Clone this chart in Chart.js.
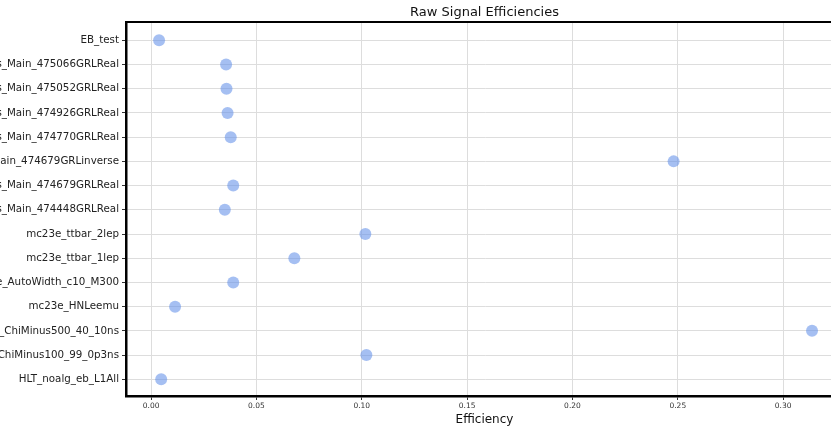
<!DOCTYPE html>
<html>
<head>
<meta charset="utf-8">
<script src="https://cdn.jsdelivr.net/npm/chart.js@4"></script>
<style>
    html, body { margin: 0; padding: 0; overflow: hidden; background: #fff; }
    canvas { display: block; }
</style>
</head>
<body>
<!-- wider than the window: the plot runs off the right edge like the reference;
     7px extra is eaten by Chart.js point overflow padding -->
<canvas id="myChart" width="849" height="427"></canvas>
<script>
// categories, top to bottom
const categories = [
    'EB_test',
    'physics_Main_475066GRLReal',
    'physics_Main_475052GRLReal',
    'physics_Main_474926GRLReal',
    'physics_Main_474770GRLReal',
    'physics_Main_474679GRLinverse',
    'physics_Main_474679GRLReal',
    'physics_Main_474448GRLReal',
    'mc23e_ttbar_2lep',
    'mc23e_ttbar_1lep',
    'mc23e_AutoWidth_c10_M300',
    'mc23e_HNLeemu',
    'mc23e_ChiMinus500_40_10ns',
    'mc23e_ChiMinus100_99_0p3ns',
    'HLT_noalg_eb_L1All'
];
const efficiencies = [
    0.0038, 0.0356, 0.0358, 0.0363, 0.0378, 0.2480, 0.0390, 0.0350,
    0.1017, 0.0680, 0.0390, 0.0114, 0.3137, 0.1022, 0.0048
];
const xTickValues = [0, 0.05, 0.10, 0.15, 0.20, 0.25, 0.30];

const font = "'DejaVu Sans', sans-serif";

// top frame line (matplotlib-like spines)
const framePlugin = {
    id: 'frame',
    afterDraw(chart) {
        const { ctx, chartArea } = chart;
        ctx.save();
        ctx.strokeStyle = '#000';
        ctx.lineWidth = 2;
        ctx.beginPath();
        ctx.moveTo(chartArea.left - 1, chartArea.top);
        ctx.lineTo(chartArea.right, chartArea.top);
        ctx.stroke();
        ctx.restore();
    }
};

document.addEventListener('DOMContentLoaded', () => {
    const points = efficiencies.map((v, i) => ({ x: v, y: i }));
    const ctx = document.getElementById('myChart').getContext('2d');
    new Chart(ctx, {
        type: 'scatter',
        data: {
            datasets: [{
                label: 'Efficiency',
                data: points,
                backgroundColor: 'rgba(100, 145, 232, 0.58)',
                borderWidth: 0,
                pointRadius: 6,
                pointHoverRadius: 6
            }]
        },
        options: {
            responsive: false,
            animation: false,
            layout: { padding: 0 },
            plugins: {
                legend: { display: false },
                tooltip: { enabled: false },
                title: {
                    display: true,
                    fullSize: false,
                    text: 'Raw Signal Efficiencies',
                    color: '#111',
                    font: { family: font, size: 13, weight: 'normal' },
                    padding: { top: 5, bottom: 1.4 }
                }
            },
            scales: {
                x: {
                    type: 'linear',
                    min: -0.0119,
                    max: 0.3284,
                    afterBuildTicks: scale => {
                        scale.ticks = xTickValues.map(v => ({ value: v }));
                    },
                    afterFit: scale => { scale.height = 31; },
                    ticks: {
                        color: '#333',
                        font: { family: font, size: 7.5 },
                        padding: 2,
                        maxRotation: 0,
                        callback: v => v.toFixed(2)
                    },
                    grid: {
                        color: '#dddddd',
                        tickColor: '#333',
                        tickLength: 4,
                        lineWidth: 1
                    },
                    border: { color: '#000', width: 2.5 },
                    title: {
                        display: true,
                        text: 'Efficiency',
                        color: '#111',
                        font: { family: font, size: 12 },
                        padding: 0
                    }
                },
                y: {
                    type: 'linear',
                    reverse: true,
                    min: -0.756,
                    max: 14.69,
                    afterBuildTicks: scale => {
                        scale.ticks = categories.map((c, i) => ({ value: i }));
                    },
                    afterFit: scale => { scale.width = 126; },
                    ticks: {
                        color: '#222',
                        font: { family: font, size: 10.3 },
                        padding: 3,
                        autoSkip: false,
                        callback: v => categories[v]
                    },
                    grid: {
                        color: '#dddddd',
                        tickColor: '#333',
                        tickLength: 4,
                        lineWidth: 1
                    },
                    border: { color: '#000', width: 2.5 }
                }
            }
        },
        plugins: [framePlugin]
    });
});
</script>
</body>
</html>
